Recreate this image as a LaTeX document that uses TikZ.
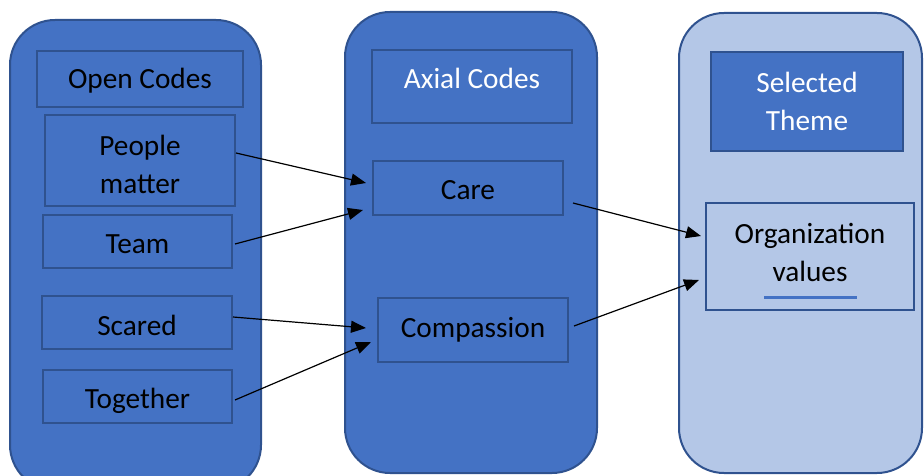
\documentclass[tikz,border=0pt]{standalone}
\usepackage{fontspec}
\setmainfont{Carlito}
\usetikzlibrary{arrows.meta}
\definecolor{office}{HTML}{4472C4}
\definecolor{officedark}{HTML}{2F528F}
\definecolor{officelight}{HTML}{B4C7E7}
\begin{document}
\begin{tikzpicture}[x=1pt,y=-1pt,
  panel/.style={draw=officedark, line width=2pt, rounded corners=45pt, inner sep=0pt},
  codebox/.style={draw=officedark, line width=2pt, fill=office, inner sep=0pt, align=center,
    font=\fontsize{29.3}{38}\selectfont, text=black, text height=23pt, text depth=0pt},
  codetext/.style={align=center, inner sep=0pt, font=\fontsize{29.3}{38}\selectfont},
  link/.style={-{Triangle[length=15pt,width=12pt]}, line width=1.2pt, black}]
\useasboundingbox (0,0) rectangle (924,476);
\clip (0,0) rectangle (924,476);

% three columns
\node[panel, fill=office, minimum width=251pt, minimum height=470pt] (p1) at (135.5,255) {};
\node[panel, fill=office, minimum width=252pt, minimum height=461pt] (p2) at (471,242.5) {};
\node[panel, fill=officelight, minimum width=243pt, minimum height=460pt] (p3) at (800.5,243) {};

% open codes
\node[codebox, text height=20pt, minimum width=206pt, minimum height=56pt] (oc) at (140,79) {Open Codes};
\node[codebox, minimum width=190pt, minimum height=91pt] (pm) at (140,160.5) {};
\node[codetext] (pmtext) at (140,164.5) {People\\matter};
\node[codebox, minimum width=189pt, minimum height=53pt] (team) at (137.5,241.5) {Team};
\node[codebox, text height=25pt, minimum width=190pt, minimum height=53pt] (scared) at (137,322.5) {Scared};
\node[codebox, minimum width=189pt, minimum height=53pt] (together) at (137.5,396.5) {Together};

% axial codes
\node[codebox, text=white, text height=5pt, minimum width=200pt, minimum height=73pt] (axial) at (472,86.5) {Axial Codes};
\node[codebox, text height=22pt, minimum width=190pt, minimum height=54pt] (care) at (468,188) {Care};
\node[codebox, text height=14pt, minimum width=190pt, minimum height=64pt] (comp) at (473,330) {Compassion};

% selected theme
\node[codebox, text=white, text height=, text depth=, minimum width=192pt, minimum height=99pt] (sel) at (807,101.5) {Selected\\Theme};
\node[codebox, fill=officelight, minimum width=208pt, minimum height=107pt] (org) at (810,256.5) {};
\node[codetext] (orgtext) at (810,252) {Organization\\values};
\draw[office, line width=3pt] (764,297) -- (857,297);

% connectors
\draw[link] ([yshift=7.5pt]pm.east) -- ([xshift=-6pt,yshift=5pt]care.west);
\draw[link] ([xshift=2pt,yshift=-2.5pt]team.east) -- ([xshift=-9pt,yshift=-22pt]care.west);
\draw[link] ([yshift=5.5pt]scared.east) -- ([xshift=-11pt,yshift=2pt]comp.west);
\draw[link] ([xshift=2pt,yshift=-3.5pt]together.east) -- ([xshift=-6pt,yshift=-12pt]comp.west);
\draw[link] ([xshift=9pt,yshift=-15pt]care.east) -- ([xshift=-4pt,yshift=20.5pt]org.west);
\draw[link] ([xshift=5pt,yshift=4pt]comp.east) -- ([xshift=-6pt,yshift=-23.5pt]org.west);
\end{tikzpicture}
\end{document}
